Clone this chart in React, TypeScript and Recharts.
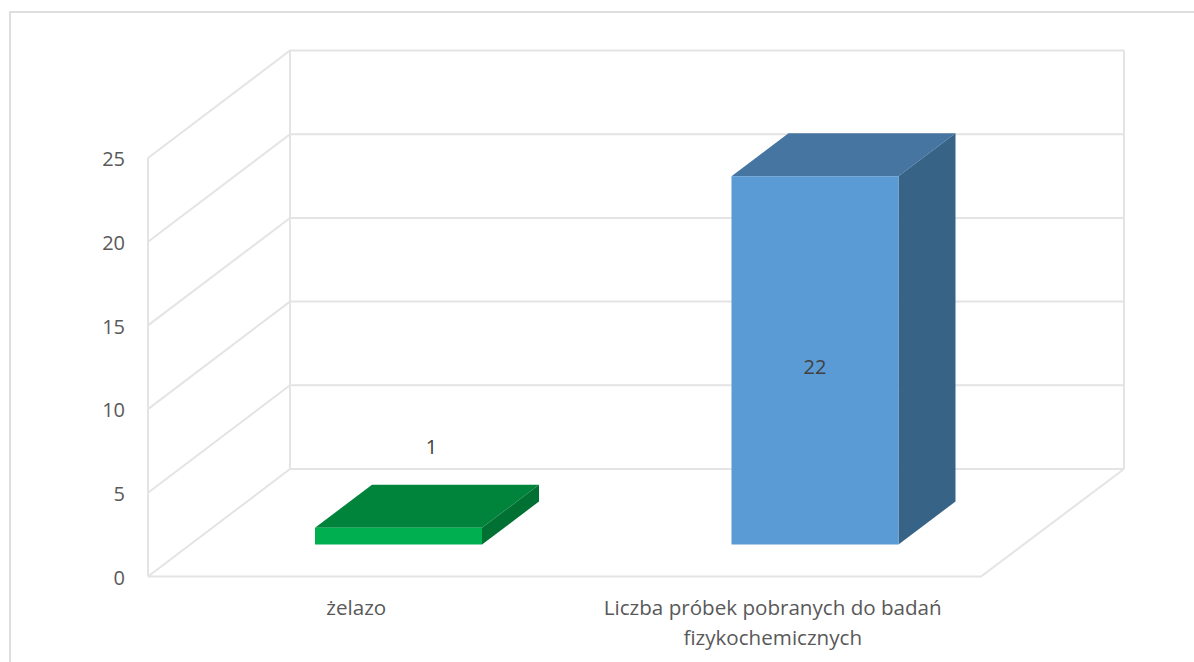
import React from 'react';
import { Bar, BarChart, CartesianGrid, LabelList, XAxis, YAxis } from 'recharts';

const categories = ['żelazo', 'Liczba próbek pobranych do badań\nfizykochemicznych'];
const sampleValues = [1, 22];
const yTicks = [0, 5, 10, 15, 20, 25];

const chartData = categories.map((name, i) => ({ name, value: sampleValues[i] }));

const FONT = '"Open Sans", sans-serif';
const TEXT_COLOR = '#595959';
const GRID_COLOR = '#e4e4e4';

// wall depth of the fake 3D box
const WALL_DX = 142;
const WALL_DY = 107.5;
// the bars stand in the middle of the floor
const BAR_DX = 42;
const BAR_DY = 32;
const BAR_DEPTH_X = 57;
const BAR_DEPTH_Y = 43;

const barColors = [
    { front: '#00b050', top: '#00843c', side: '#007033' },
    { front: '#5b9bd5', top: '#4775a1', side: '#376387' },
];
const labelShift = [
    { dx: 75, dy: -122 },
    { dx: 42, dy: -25.5 },
];

const gridLine = (props: any) => {
    const { x1, y1, x2, y, height, index } = props;
    const backX = x1 + WALL_DX;
    const backY = y1 - WALL_DY;
    const backRight = x2 + WALL_DX + 1;
    const floorY = y + height;
    const isFloor = Math.abs(y1 - floorY) < 1;
    const isTop = Math.abs(y1 - y) < 1;
    const common = { stroke: GRID_COLOR, strokeWidth: 2, fill: 'none' };
    return (
        <g key={`level-${index}`}>
            <polyline {...common} points={`${x1},${y1} ${backX},${backY} ${backRight},${backY}`} />
            {isFloor && <polyline {...common} points={`${x1},${y1} ${x2},${y1} ${backRight},${backY}`} />}
            {isTop && (
                <>
                    <line {...common} x1={x1} y1={y1} x2={x1} y2={floorY} />
                    <line {...common} x1={backX} y1={backY} x2={backX} y2={floorY - WALL_DY} />
                    <line {...common} x1={backRight} y1={backY} x2={backRight} y2={floorY - WALL_DY} />
                </>
            )}
        </g>
    );
};

const BoxBar = (props: any) => {
    const { x, y, width, height, index } = props;
    const colors = barColors[index];
    const left = x + BAR_DX;
    const right = left + width;
    const top = y - BAR_DY;
    const bottom = top + height;
    return (
        <g>
            <polygon
                fill={colors.top}
                points={`${left},${top} ${left + BAR_DEPTH_X},${top - BAR_DEPTH_Y} ${right + BAR_DEPTH_X},${top - BAR_DEPTH_Y} ${right},${top}`}
            />
            <polygon
                fill={colors.side}
                points={`${right},${top} ${right + BAR_DEPTH_X},${top - BAR_DEPTH_Y} ${right + BAR_DEPTH_X},${bottom - BAR_DEPTH_Y} ${right},${bottom}`}
            />
            <rect x={left} y={top} width={width} height={height} fill={colors.front} />
        </g>
    );
};

const ValueLabel = (props: any) => {
    const { x, y, width, height, value, index } = props;
    const shift = labelShift[index];
    return (
        <text
            x={x + width / 2 + shift.dx}
            y={y + height / 2 + shift.dy}
            textAnchor="middle"
            dominantBaseline="central"
            fontFamily={FONT}
            fontSize={20}
            fill="#404040"
        >
            {value}
        </text>
    );
};

const CategoryTick = (props: any) => {
    const { x, payload } = props;
    const lines = String(payload.value).split('\n');
    return (
        <text textAnchor="middle" fontFamily={FONT} fontSize={20.6} fill={TEXT_COLOR}>
            {lines.map((line, i) => (
                <tspan key={line} x={x} y={614.5 + i * 30}>
                    {line}
                </tspan>
            ))}
        </text>
    );
};

export default function App() {
    return (
        <div style={{ position: 'absolute', left: 0, top: 0, width: 1194, height: 662, overflow: 'hidden', background: '#fff' }}>
            <div
                style={{
                    position: 'absolute',
                    left: 9,
                    top: 11,
                    width: 1185,
                    height: 651,
                    borderTop: '2px solid #dedede',
                    borderLeft: '2px solid #dedede',
                }}
            />
            <div style={{ position: 'absolute', left: 0, top: 0 }}>
                <BarChart
                    width={1194}
                    height={662}
                    data={chartData}
                    margin={{ top: 158, right: 213, bottom: 0, left: 0 }}
                >
                    <CartesianGrid horizontal={gridLine} vertical={false} />
                    <XAxis
                        dataKey="name"
                        height={85.5}
                        axisLine={false}
                        tickLine={false}
                        interval={0}
                        tick={<CategoryTick />}
                    />
                    <YAxis
                        width={148}
                        domain={[0, 25]}
                        ticks={yTicks}
                        axisLine={false}
                        tickLine={false}
                        tickSize={0}
                        tickMargin={23}
                        tick={{ fontFamily: FONT, fontSize: 20, fill: TEXT_COLOR, dy: 1 }}
                    />
                    <Bar dataKey="value" barSize={167} shape={<BoxBar />} isAnimationActive={false}>
                        <LabelList dataKey="value" content={<ValueLabel />} />
                    </Bar>
                </BarChart>
            </div>
        </div>
    );
}
